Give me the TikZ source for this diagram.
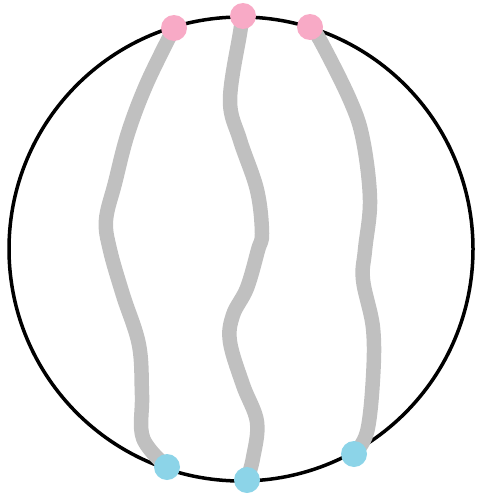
\documentclass[tikz,border=0pt]{standalone}
\usepackage{tikz}
\usepackage{xcolor}

\definecolor{strandgray}{RGB}{192,192,192}
\definecolor{toppink}{RGB}{248,170,198}
\definecolor{bottomblue}{RGB}{140,212,232}

\begin{document}
\begin{tikzpicture}[x=1pt,y=-1pt,
    strand/.style={draw=strandgray,line width=14.5pt,line cap=round,line join=round},
    pinkdot/.style={circle,fill=toppink,inner sep=0pt,minimum size=26pt},
    bluedot/.style={circle,fill=bottomblue,inner sep=0pt,minimum size=26pt}]
    \useasboundingbox (0,0) rectangle (478,495);

    % Outer circle
    \draw[line width=3.5pt] (241,249) circle (232);

    % End points
    \coordinate (t1) at (174,28);
    \coordinate (t2) at (243,16);
    \coordinate (t3) at (310,27);
    \coordinate (b1) at (167,467);
    \coordinate (b2) at (247,480);
    \coordinate (b3) at (354,454);

    % Strands
    \draw[strand] plot[smooth,tension=0.6] coordinates {(t1) (147,83) (128,133) (115,183)
        (106,220) (110,250) (123,295) (139,345) (142,395) (143,438) (b1)};
    \draw[strand] plot[smooth,tension=0.6] coordinates {(t2) (240,33) (230,100) (240,140)
        (257,190) (262,233) (258,250) (247,288) (233,315) (230,342) (243,385)
        (257,422) (253,458) (b2)};
    \draw[strand] plot[smooth,tension=0.6] coordinates {(t3) (320,40) (350,100) (363,140)
        (370,200) (365,250) (363,280) (373,328) (373,378) (367,432) (b3)};

    % Dots
    \node[pinkdot] (top1) at (t1) {};
    \node[pinkdot] (top2) at (t2) {};
    \node[pinkdot] (top3) at (t3) {};
    \node[bluedot] (bot1) at (b1) {};
    \node[bluedot] (bot2) at (b2) {};
    \node[bluedot] (bot3) at (b3) {};
\end{tikzpicture}
\end{document}
